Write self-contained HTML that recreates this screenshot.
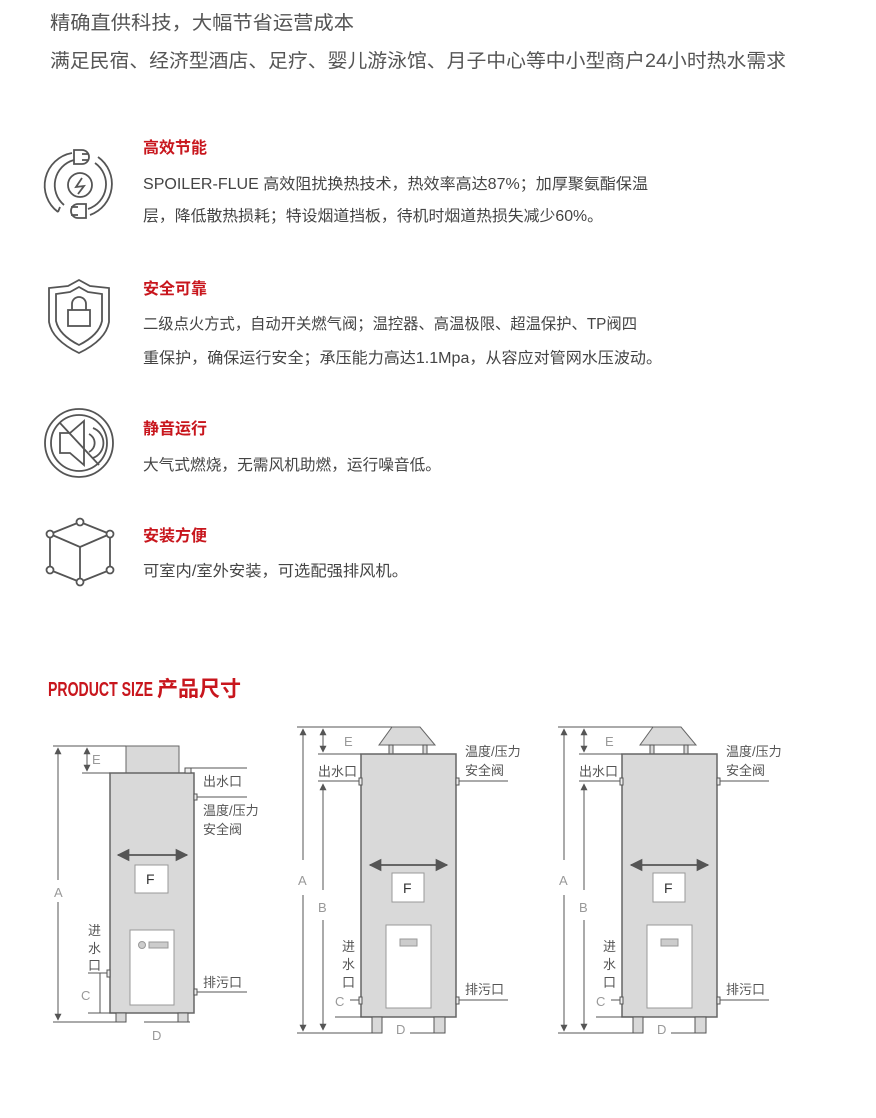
<!DOCTYPE html>
<html><head><meta charset="utf-8"><style>
html,body{margin:0;padding:0;background:#fff;}
svg{display:block;}
text{font-family:"Liberation Sans","Noto Sans CJK SC",sans-serif;}
</style></head><body>
<svg width="876" height="1118" viewBox="0 0 876 1118" xmlns="http://www.w3.org/2000/svg">
<defs>
<marker id="ar" viewBox="0 0 10 10" refX="9" refY="5" markerWidth="7" markerHeight="7" orient="auto-start-reverse"><path d="M0,0 L10,5 L0,10 z" fill="#555"/></marker>
</defs>
<g fill="#555" font-size="19">
<text x="50" y="29" textLength="304" lengthAdjust="spacingAndGlyphs">精确直供科技，大幅节省运营成本</text>
<text x="50" y="67" textLength="736" lengthAdjust="spacingAndGlyphs">满足民宿、经济型酒店、足疗、婴儿游泳馆、月子中心等中小型商户24小时热水需求</text>
</g>
<g fill="#c8161d" font-size="16" font-weight="bold">
<text x="143" y="153">高效节能</text>
<text x="143" y="294">安全可靠</text>
<text x="143" y="434">静音运行</text>
<text x="143" y="541">安装方便</text>
</g>
<g fill="#444" font-size="15.5">
<text x="143" y="189" textLength="505" lengthAdjust="spacingAndGlyphs">SPOILER-FLUE  高效阻扰换热技术，热效率高达87%；加厚聚氨酯保温</text>
<text x="143" y="221" textLength="460" lengthAdjust="spacingAndGlyphs">层，降低散热损耗；特设烟道挡板，待机时烟道热损失减少60%。</text>
<text x="143" y="329" textLength="494" lengthAdjust="spacingAndGlyphs">二级点火方式，自动开关燃气阀；温控器、高温极限、超温保护、TP阀四</text>
<text x="143" y="363" textLength="519" lengthAdjust="spacingAndGlyphs">重保护，确保运行安全；承压能力高达1.1Mpa，从容应对管网水压波动。</text>
<text x="143" y="470" textLength="298" lengthAdjust="spacingAndGlyphs">大气式燃烧，无需风机助燃，运行噪音低。</text>
<text x="143" y="576" textLength="265" lengthAdjust="spacingAndGlyphs">可室内/室外安装，可选配强排风机。</text>
</g>
<g fill="none" stroke="#555" stroke-width="1.8">
<!-- energy -->
<circle cx="80" cy="185" r="12"/>
<path d="M82,178 L76,187 L84,186 L78,194"/>
<path d="M60,207 L58,212 M58,212 A33,33 0 0 1 72,153"/>
<path d="M64,205 A26,26 0 0 1 74,160"/>
<path d="M98,157 A33,33 0 0 1 90,215"/>
<path d="M95,163 A26,26 0 0 1 88,209"/>
<path d="M74,150 h8 a7,7 0 0 1 0,14 h-8 z M82,154 h7 M82,160 h7"/>
<path d="M86,204 h-8 a7,7 0 0 0 0,14 h8 z M71,207 h7 M71,215 h7"/>
<!-- shield -->
<path d="M79,280 L90,286 L109,288 L109,322 Q106,340 79,353 Q52,340 49,322 L49,288 L68,286 Z"/>
<path d="M79,287 L88,292 L102,294 L102,321 Q99,335 79,345 Q59,335 56,321 L56,294 L70,292 Z"/>
<rect x="68" y="310" width="22" height="16"/>
<path d="M72,310 v-6 a7,7 0 0 1 14,0 v6"/>
<!-- mute -->
<circle cx="79" cy="443" r="34"/>
<circle cx="79" cy="443" r="28"/>
<path d="M60,433 h10 l14,-12 v44 l-14,-12 h-10 z"/>
<path d="M89,434 a10,10 0 0 1 0,18 M93,428 a16,16 0 0 1 0,30"/>
<path d="M60,423 L99,465"/>
<!-- cube -->
<path d="M50,534 L80,522 L110,534 L110,570 L80,582 L50,570 Z"/>
<path d="M50,534 L80,547 L110,534 M80,547 V582"/>
</g>
<g fill="#fff" stroke="#555" stroke-width="1.8">
<circle cx="80" cy="522" r="3.5"/><circle cx="50" cy="534" r="3.5"/><circle cx="110" cy="534" r="3.5"/>
<circle cx="50" cy="570" r="3.5"/><circle cx="110" cy="570" r="3.5"/><circle cx="80" cy="582" r="3.5"/>
</g>
<text x="48" y="696" fill="#c8161d" font-size="20" font-weight="bold" textLength="105" lengthAdjust="spacingAndGlyphs">PRODUCT SIZE</text>
<text x="157" y="696" fill="#c8161d" font-size="21" font-weight="bold">产品尺寸</text>

<g stroke="#555" stroke-width="1" fill="none">
<rect x="126" y="746" width="53" height="27" fill="#d9d9d9" stroke="#666"/>
<rect x="110" y="773" width="84" height="240" fill="#d9d9d9" stroke="#666" stroke-width="1.5"/>
<rect x="116" y="1013" width="10" height="9" fill="#d9d9d9"/>
<rect x="178" y="1013" width="10" height="9" fill="#d9d9d9"/>
<line x1="53" y1="746" x2="126" y2="746"/>
<line x1="82" y1="773" x2="110" y2="773"/>
<line x1="53" y1="1022" x2="126" y2="1022"/>
<line x1="144" y1="1022" x2="190" y2="1022"/>
<line x1="58" y1="748" x2="58" y2="880" marker-start="url(#ar)"/>
<line x1="58" y1="902" x2="58" y2="1020" marker-end="url(#ar)"/>
<line x1="87" y1="748" x2="87" y2="771" marker-start="url(#ar)" marker-end="url(#ar)"/>
<line x1="118" y1="855" x2="187" y2="855" marker-start="url(#ar)" marker-end="url(#ar)" stroke-width="1.8"/>
<rect x="135" y="865" width="33" height="28" fill="#fff" stroke="#999"/>
<rect x="130" y="930" width="44" height="75" fill="#fff" stroke="#999"/>
<circle cx="142" cy="945" r="3.5" fill="#ccc" stroke="#999"/>
<rect x="149" y="942" width="19" height="6" fill="#ccc" stroke="#999"/>
<rect x="185" y="768" width="6" height="5" fill="#eee"/>
<line x1="185" y1="768" x2="247" y2="768"/>
<rect x="194" y="794" width="3" height="6" fill="#eee"/>
<line x1="197" y1="797" x2="247" y2="797"/>
<rect x="194" y="989" width="3" height="6" fill="#eee"/>
<line x1="197" y1="992" x2="247" y2="992"/>
<rect x="107" y="970" width="3" height="7" fill="#eee"/>
<line x1="88" y1="973" x2="107" y2="973"/>
<line x1="100" y1="973" x2="100" y2="1013"/>
<line x1="88" y1="1013" x2="116" y2="1013"/>
</g>
<g fill="#555" font-size="13">
<text x="92" y="764" fill="#999">E</text>
<text x="54" y="897" fill="#999">A</text>
<text x="81" y="1000" fill="#999">C</text>
<text x="152" y="1040" fill="#999">D</text>
<text x="146" y="884" fill="#333" font-size="14">F</text>
<text x="203" y="786">出水口</text>
<text x="203" y="815">温度/压力</text>
<text x="203" y="834">安全阀</text>
<text x="203" y="987">排污口</text>
<text x="88" y="935">进</text><text x="88" y="953">水</text><text x="88" y="970">口</text>
</g>

<g id="d2">
<g stroke="#555" stroke-width="1" fill="none">
<path d="M392,727 L420,727 L435,745 L379,745 Z" fill="#d9d9d9" stroke="#666"/>
<rect x="389" y="745" width="4" height="9" fill="#d9d9d9"/>
<rect x="423" y="745" width="4" height="9" fill="#d9d9d9"/>
<rect x="361" y="754" width="95" height="263" fill="#d9d9d9" stroke="#666" stroke-width="1.5"/>
<rect x="372" y="1017" width="10" height="16" fill="#d9d9d9"/>
<rect x="434" y="1017" width="11" height="16" fill="#d9d9d9"/>
<line x1="297" y1="727" x2="392" y2="727"/>
<line x1="318" y1="754" x2="361" y2="754"/>
<line x1="318" y1="781" x2="359" y2="781"/>
<line x1="335" y1="1017" x2="372" y2="1017"/>
<line x1="297" y1="1033" x2="372" y2="1033"/>
<line x1="410" y1="1033" x2="434" y2="1033"/>
<line x1="303" y1="729" x2="303" y2="860" marker-start="url(#ar)"/>
<line x1="303" y1="895" x2="303" y2="1031" marker-end="url(#ar)"/>
<line x1="323" y1="729" x2="323" y2="752" marker-start="url(#ar)" marker-end="url(#ar)"/>
<line x1="323" y1="784" x2="323" y2="890" marker-start="url(#ar)"/>
<line x1="323" y1="920" x2="323" y2="1030" marker-end="url(#ar)"/>
<line x1="370" y1="865" x2="447" y2="865" marker-start="url(#ar)" marker-end="url(#ar)" stroke-width="1.8"/>
<rect x="392" y="873" width="32" height="29" fill="#fff" stroke="#999"/>
<rect x="386" y="925" width="45" height="83" fill="#fff" stroke="#999"/>
<rect x="400" y="939" width="17" height="7" fill="#ccc" stroke="#999"/>
<rect x="359" y="778" width="3" height="7" fill="#eee"/>
<rect x="456" y="778" width="3" height="7" fill="#eee"/>
<line x1="459" y1="781" x2="508" y2="781"/>
<rect x="456" y="997" width="3" height="7" fill="#eee"/>
<line x1="459" y1="1000" x2="508" y2="1000"/>
<rect x="359" y="997" width="3" height="7" fill="#eee"/>
<line x1="350" y1="1000" x2="359" y2="1000"/>
</g>
<g fill="#555" font-size="13">
<text x="344" y="746" fill="#999">E</text>
<text x="298" y="885" fill="#999">A</text>
<text x="318" y="912" fill="#999">B</text>
<text x="335" y="1006" fill="#999">C</text>
<text x="396" y="1034" fill="#999">D</text>
<text x="403" y="893" fill="#333" font-size="14">F</text>
<text x="318" y="776">出水口</text>
<text x="465" y="756">温度/压力</text>
<text x="465" y="775">安全阀</text>
<text x="465" y="994">排污口</text>
<text x="342" y="951">进</text><text x="342" y="969">水</text><text x="342" y="987">口</text>
</g>
</g>
<use href="#d2" transform="translate(261,0)"/>
</svg>
</body></html>
